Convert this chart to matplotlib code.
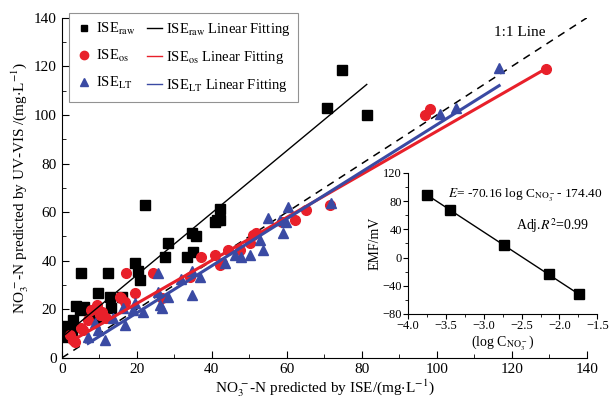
import matplotlib
matplotlib.use("Agg")
import matplotlib.pyplot as plt
import numpy as np
from matplotlib.lines import Line2D
from matplotlib.ticker import MultipleLocator

plt.rcParams['font.family'] = ['Liberation Serif', 'DejaVu Serif']
plt.rcParams['mathtext.fontset'] = 'stix'

# ISE_raw (black squares)
raw_x = [0.3, 0.8, 1.5, 2.0, 2.6, 3.0, 3.9, 4.8, 5.2, 6.0, 7.5, 9.7, 9.7, 12.3, 12.8, 13.2,
         16.0, 19.5, 20.3, 20.8, 22.1, 27.5, 28.3, 33.3, 34.6, 35.0, 35.9, 40.8, 41.4, 42.1,
         42.1, 70.7, 74.7, 81.3]
raw_y = [11.5, 8.8, 13.0, 10.0, 11.5, 15.6, 21.3, 19.8, 34.9, 21.0, 17.0, 26.9, 16.3, 34.9, 25.2, 20.4,
         25.0, 39.0, 35.6, 32.1, 63.0, 41.7, 47.2, 41.4, 51.3, 43.8, 50.1, 56.0, 56.8, 61.2,
         56.8, 102.9, 118.5, 100.0]
# ISE_os (red circles)
os_x = [2.1, 3.0, 3.5, 5.2, 5.7, 7.0, 7.9, 9.3, 10.1, 10.6, 11.9, 15.5, 15.9, 16.8, 17.2, 19.5,
        24.3, 26.8, 34.1, 37.2, 40.8, 42.1, 42.6, 44.4, 47.5, 50.1, 51.0, 51.9, 58.6, 62.1,
        65.2, 71.5, 96.8, 98.1, 129.2]
os_y = [9.5, 7.4, 6.7, 12.2, 11.5, 15.6, 19.8, 21.8, 17.7, 19.1, 16.3, 25.2, 24.5, 23.2, 34.9, 26.6,
        34.9, 24.5, 33.5, 41.7, 42.4, 38.3, 38.9, 44.4, 44.4, 47.2, 50.6, 51.3, 56.0, 56.8,
        60.9, 63.0, 100.0, 102.5, 118.8]
# ISE_LT (blue triangles)
lt_x = [7.0, 8.8, 9.7, 11.5, 13.7, 16.3, 16.8, 19.0, 19.5, 21.7, 25.7, 25.7, 26.1, 26.6, 28.3,
        31.9, 34.6, 34.6, 36.8, 43.5, 46.1, 47.9, 50.1, 52.8, 53.7, 55.0, 58.1, 59.0, 59.9,
        60.3, 71.9, 100.8, 105.2, 116.6]
lt_y = [8.8, 14.2, 11.5, 7.4, 16.3, 20.4, 13.6, 19.8, 22.5, 19.1, 34.9, 27.3, 21.8, 20.4, 25.2,
        32.4, 35.6, 25.9, 33.5, 38.9, 42.4, 41.7, 42.4, 48.6, 44.4, 57.5, 56.8, 51.3, 56.0,
        62.3, 63.6, 100.4, 102.7, 119.2]

# linear fits: (slope, intercept)
fit_raw = (1.28, 8.5)
fit_os = (0.886, 4.7)
fit_lt = (0.968, -0.8)

# inset calibration
cal_logc = [-3.75, -3.45, -2.74, -2.14, -1.74]
cal_emf = [88.4, 67.2, 17.6, -23.9, -51.7]
cal_fit = (-70.16, -174.40)

black = '#000000'
red = '#e8202a'
blue = '#3a4aa3'

fig = plt.figure(figsize=(6.12, 4.04), dpi=100)
ax = fig.add_axes([0.101, 0.114, 0.858, 0.842])

ax.plot([0, 140], [0, 140], ls=(0, (5, 4)), color='black', lw=1.1, zorder=1)

ax.plot(raw_x, raw_y, 's', color=black, ms=6.5, zorder=3)
ax.plot(os_x, os_y, 'o', color=red, ms=7, zorder=3)
ax.plot(lt_x, lt_y, '^', color=blue, ms=7.5, zorder=3)

def fit_line(xs, fit, color, lw):
    xx = np.array([min(xs), max(xs)])
    ax.plot(xx, fit[0] * xx + fit[1], color=color, lw=lw, zorder=4)

fit_line(raw_x, fit_raw, black, 1.0)
fit_line(os_x, fit_os, red, 2.2)
fit_line(lt_x, fit_lt, blue, 2.2)

ax.set_xlim(0, 140)
ax.set_ylim(0, 140)
ax.xaxis.set_major_locator(MultipleLocator(20))
ax.xaxis.set_minor_locator(MultipleLocator(10))
ax.yaxis.set_major_locator(MultipleLocator(20))
ax.yaxis.set_minor_locator(MultipleLocator(10))
ax.tick_params(which='both', direction='in', labelsize=11)
ax.tick_params(which='major', length=5)
ax.tick_params(which='minor', length=3)
ax.spines['top'].set_visible(False)
ax.spines['right'].set_visible(False)
ax.set_xlabel(r'NO$_3^{\,-}$-N predicted by ISE/(mg$\cdot$L$^{-1}$)', fontsize=11, labelpad=1)
ax.set_ylabel(r'NO$_3^{\,-}$-N predicted by UV-VIS /(mg$\cdot$L$^{-1}$)', fontsize=11, labelpad=2)

ax.text(122, 134, '1:1 Line', fontsize=11, ha='center', va='center')

handles = [
    Line2D([], [], marker='s', ls='none', color=black, ms=5),
    Line2D([], [], marker='o', ls='none', color=red, ms=6),
    Line2D([], [], marker='^', ls='none', color=blue, ms=6),
    Line2D([], [], color=black, lw=1.0),
    Line2D([], [], color=red, lw=1.0),
    Line2D([], [], color=blue, lw=1.0),
]
labels = [r'ISE$_{\mathrm{raw}}$', r'ISE$_{\mathrm{os}}$', r'ISE$_{\mathrm{LT}}$',
          r'ISE$_{\mathrm{raw}}$ Linear Fitting', r'ISE$_{\mathrm{os}}$ Linear Fitting',
          r'ISE$_{\mathrm{LT}}$ Linear Fitting']
leg = ax.legend(handles, labels, ncol=2, loc='upper left', bbox_to_anchor=(0.0, 1.035),
                fontsize=10.5, frameon=True, fancybox=False, edgecolor='#777777',
                handlelength=1.0, handletextpad=0.3, columnspacing=0.8, labelspacing=0.75,
                borderpad=0.55)
leg.get_frame().set_linewidth(0.8)

# inset
ins = fig.add_axes([0.667, 0.223, 0.309, 0.349])
ins.plot(cal_logc, cal_emf, 's', color='black', ms=7, zorder=3)
xx = np.array([min(cal_logc), max(cal_logc)])
ins.plot(xx, cal_fit[0] * xx + cal_fit[1], color='black', lw=1.0)
ins.set_xlim(-4.0, -1.5)
ins.set_ylim(-80, 120)
ins.xaxis.set_major_locator(MultipleLocator(0.5))
ins.xaxis.set_minor_locator(MultipleLocator(0.25))
ins.yaxis.set_major_locator(MultipleLocator(40))
ins.yaxis.set_minor_locator(MultipleLocator(20))
ins.tick_params(which='both', direction='out', labelsize=9, pad=1)
ins.tick_params(which='major', length=3.5)
ins.tick_params(which='minor', length=2)
ins.spines['top'].set_visible(False)
ins.spines['right'].set_visible(False)
ins.patch.set_alpha(0)
ins.set_ylabel('EMF/mV', fontsize=10, labelpad=1)
ins.set_xlabel(r'(log C$_{\mathrm{NO_3^-}}$)', fontsize=10, labelpad=1)
ins.text(-3.47, 88, r'$E$= -70.16 log C$_{\mathrm{NO_3^{\,-}}}$- 174.40', fontsize=9.6,
         ha='left', va='center')
ins.text(-2.58, 45, r'Adj.$R^2$=0.99', fontsize=10, ha='left', va='center')

fig.savefig('out.png', dpi=100)
